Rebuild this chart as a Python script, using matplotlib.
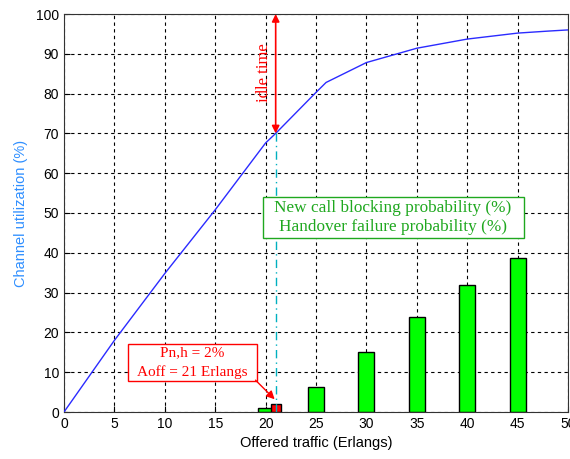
"""Channel utilization versus offered traffic, with blocking / handover failure bars."""

import matplotlib.pyplot as plt
from matplotlib.patches import Rectangle

# utilization curve (Erlangs -> %)
traffic = [0, 5, 10, 15, 20, 21, 25, 26, 30, 35, 40, 45, 48, 50]
utilization = [0, 18.0, 34.8, 50.8, 67.6, 70.0, 80.3, 82.8, 87.8, 91.4, 93.7, 95.2, 95.7, 96.0]

# blocking / handover failure probability (%)
bar_traffic = [20, 25, 30, 35, 40, 45]
bar_prob = [1.0, 6.4, 15.1, 23.9, 32.0, 38.75]

# operating point
a_off = 21
p_nh = 2
u_off = 70

serif = "Liberation Serif"
sans = "Liberation Sans"
green = "#1fa81f"

fig = plt.figure(figsize=(5.70, 4.59), dpi=100)
ax = fig.add_axes([64 / 570, 47 / 459, 504 / 570, 398 / 459])

ax.plot(traffic, utilization, color="#2b2bff", lw=1.0, zorder=3)

ax.bar(bar_traffic, bar_prob, width=1.6, color="#00ff00", edgecolor="black", lw=1.0, zorder=2)
ax.bar([a_off], [p_nh], width=1.0, color="red", edgecolor="black", lw=1.0, zorder=2)

# dash-dot marker at A_off and the idle-time arrow above the curve
ax.plot([a_off, a_off], [0, u_off], color="#00b0c0", lw=1.0, ls=(0, (6, 3, 1, 3)), zorder=3)
ax.annotate("", xy=(a_off, 100), xytext=(a_off, u_off),
            arrowprops=dict(arrowstyle="<|-|>", color="red", lw=1.2,
                            shrinkA=0, shrinkB=0, mutation_scale=11),
            zorder=4)
ax.text(a_off - 1.2, 85.3, "idle time", rotation=90, color="red", family=serif,
        fontsize=12, ha="center", va="center")

# legend-like label box for the bars
ax.add_patch(Rectangle((19.7, 43.8), 25.9, 10.1, fc="white", ec=green, lw=1.0, zorder=5))
ax.text(32.6, 48.9, "New call blocking probability (%)\nHandover failure probability (%)",
        color=green, family=serif, fontsize=12.4, ha="center", va="center",
        linespacing=1.25, zorder=6)

# operating point label with arrow to the red bar
ax.add_patch(Rectangle((6.3, 7.9), 12.8, 9.2, fc="white", ec="red", lw=1.0, zorder=5))
ax.text(12.7, 12.4, "Pn,h = 2%\nAoff = 21 Erlangs", color="red", family=serif,
        fontsize=11, ha="center", va="center", linespacing=1.5, zorder=6)
ax.annotate("", xy=(20.9, 3.2), xytext=(19.0, 8.0),
            arrowprops=dict(arrowstyle="-|>", color="red", lw=1.0,
                            shrinkA=0, shrinkB=0, mutation_scale=12),
            zorder=6)

ax.set_xlim(0, 50)
ax.set_ylim(0, 100)
ax.set_xticks(range(0, 51, 5))
ax.set_yticks(range(0, 101, 10))
ax.grid(True, color="black", ls=(0, (3, 3)), lw=0.8)
ax.set_axisbelow(True)
ax.tick_params(direction="in", length=4, labelsize=10)
for lbl in ax.get_xticklabels() + ax.get_yticklabels():
    lbl.set_family(sans)
for sp in ax.spines.values():
    sp.set_color("#333333")

ax.set_xlabel("Offered traffic (Erlangs)", family=sans, fontsize=10.5, labelpad=4)
ax.set_ylabel("Channel utilization (%)", family=sans, fontsize=10.5, color="#2f8fff", labelpad=6)

fig.savefig("out.png", dpi=100)
